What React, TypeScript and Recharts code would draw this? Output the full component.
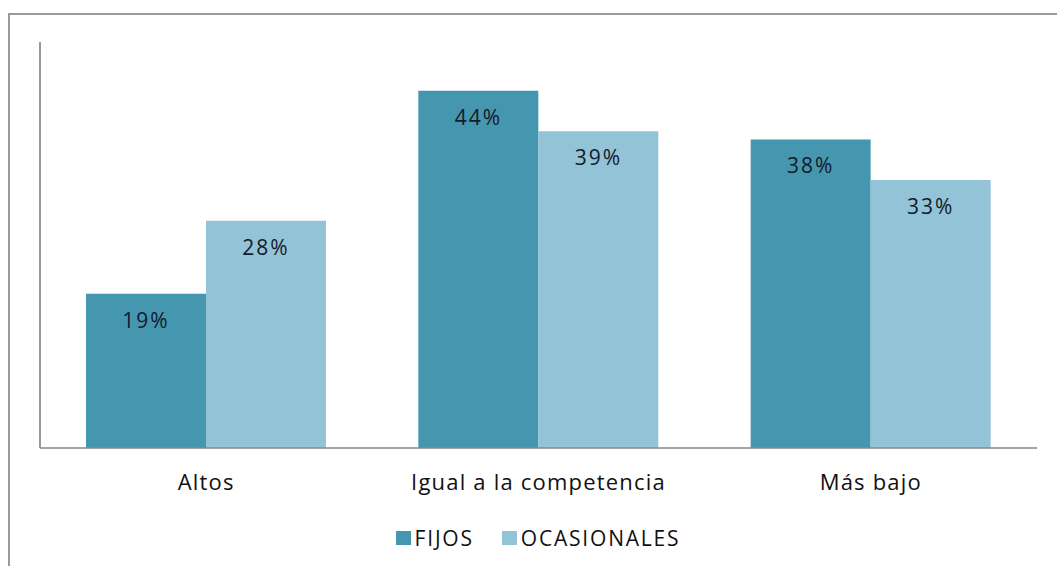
import { BarChart, Bar, XAxis, YAxis, Legend, LabelList } from 'recharts';

const categories = ['Altos', 'Igual a la competencia', 'Más bajo'];
const fijos = [19, 44, 38];
const ocasionales = [28, 39, 33];

const data = categories.map((name, i) => ({
  name,
  FIJOS: fijos[i],
  OCASIONALES: ocasionales[i],
}));

const FONT = '"Open Sans", sans-serif';
const COLORS = { FIJOS: '#4497AF', OCASIONALES: '#93C3D6' };

function LegendContent() {
  return (
    <div
      style={{
        display: 'flex', justifyContent: 'center', alignItems: 'center',
        fontFamily: FONT, fontSize: 21, color: '#111', letterSpacing: 1.8,
      }}
    >
      {(['FIJOS', 'OCASIONALES'] as const).map((k) => (
        <span key={k} style={{ display: 'flex', alignItems: 'center', margin: '0 14px' }}>
          <span style={{ width: 15, height: 14, background: COLORS[k], marginRight: 4 }} />
          {k}
        </span>
      ))}
    </div>
  );
}

export default function App() {
  return (
    <div style={{ position: 'absolute', left: 0, top: 0, width: 1057, height: 566, background: '#fff' }}>
      <div
        style={{
          position: 'absolute', left: 8, top: 13, right: 0, bottom: 0,
          borderTop: '2px solid #9a9a9a', borderLeft: '2px solid #9a9a9a',
        }}
      />
      <BarChart
        width={1057}
        height={566}
        data={data}
        margin={{ top: 42, right: 20, left: 39, bottom: 14 }}
        barCategoryGap={46}
        barGap={0}
        style={{ position: 'absolute', left: 0, top: 0 }}
      >
        <YAxis width={1} domain={[0, 50]} tick={false} tickLine={false} axisLine={{ stroke: '#777', strokeWidth: 1.5 }} />
        <XAxis
          dataKey="name"
          height={76}
          tickLine={false}
          axisLine={{ stroke: '#888', strokeWidth: 1.5 }}
          tickMargin={20}
          tick={{ fontFamily: FONT, fontSize: 22, fill: '#111', letterSpacing: 1.2 }}
        />
        <Legend verticalAlign="bottom" content={<LegendContent />} />
        <Bar dataKey="FIJOS" fill={COLORS.FIJOS} isAnimationActive={false}>
          <LabelList
            dataKey="FIJOS"
            position="insideTop"
            offset={19}
            formatter={(v: number) => `${v}%`}
            style={{ fontFamily: FONT, fontSize: 21, fill: '#161a2a', letterSpacing: 2 }}
          />
        </Bar>
        <Bar dataKey="OCASIONALES" fill={COLORS.OCASIONALES} isAnimationActive={false}>
          <LabelList
            dataKey="OCASIONALES"
            position="insideTop"
            offset={19}
            formatter={(v: number) => `${v}%`}
            style={{ fontFamily: FONT, fontSize: 21, fill: '#161a2a', letterSpacing: 2 }}
          />
        </Bar>
      </BarChart>
    </div>
  );
}
